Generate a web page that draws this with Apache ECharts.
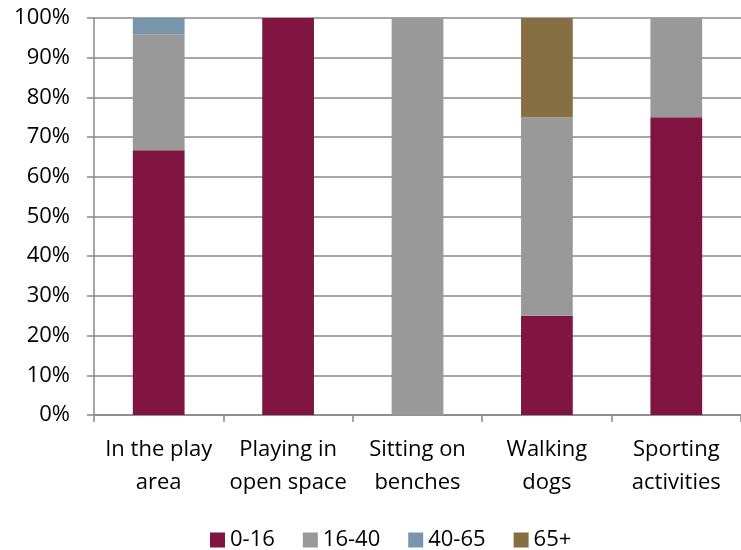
<!DOCTYPE html>
<html>
<head>
<meta charset="utf-8">
<script src="https://cdn.jsdelivr.net/npm/echarts@6/dist/echarts.min.js"></script>
<style>
  html, body { margin: 0; padding: 0; background: #fff; }
  #chart { width: 741px; height: 550px; }
</style>
</head>
<body>
<div id="chart"></div>
<script>
// categories and share of each age group (%)
var categories = ["In the play\narea", "Playing in\nopen space", "Sitting on\nbenches", "Walking\ndogs", "Sporting\nactivities"];
var age0to16 = [66.7, 100, 0, 25, 75];
var age16to40 = [29.2, 0, 100, 50, 25];
var age40to65 = [4.1, 0, 0, 0, 0];
var age65plus = [0, 0, 0, 25, 0];
var yTicks = [0, 10, 20, 30, 40, 50, 60, 70, 80, 90, 100];

var font = "'Open Sans', 'Liberation Sans', sans-serif";

function bar(name, data, color) {
  return {
    name: name,
    type: "bar",
    stack: "total",
    barWidth: "40%",
    data: data,
    itemStyle: { color: color },
    emphasis: { disabled: true }
  };
}

var chart = echarts.init(document.getElementById("chart"));
chart.setOption({
  animation: false,
  textStyle: { fontFamily: font },
  grid: { left: 94, right: 0, top: 18, bottom: 135 },
  legend: {
    top: 524,
    left: 205,
    itemWidth: 15,
    itemHeight: 15,
    itemGap: 28,
    icon: "rect",
    textStyle: { fontSize: 22, color: "#000", fontFamily: font },
    data: ["0-16", "16-40", "40-65", "65+"]
  },
  xAxis: {
    type: "category",
    data: categories,
    axisLine: { lineStyle: { color: "#888", width: 1.5 } },
    axisTick: { show: true, length: 7, lineStyle: { color: "#888", width: 1.5 } },
    axisLabel: { fontSize: 22, color: "#000", lineHeight: 33, margin: 18, interval: 0 }
  },
  yAxis: {
    type: "value",
    min: 0,
    max: 100,
    interval: 10,
    axisLine: { show: true, lineStyle: { color: "#888", width: 1.5 } },
    axisTick: { show: true, length: 7, lineStyle: { color: "#888", width: 1.5 } },
    splitLine: { lineStyle: { color: "#888", width: 1.5 } },
    axisLabel: {
      fontSize: 22,
      color: "#000",
      margin: 24,
      formatter: function (v) { return yTicks.indexOf(v) >= 0 ? v + "%" : ""; }
    }
  },
  series: [
    bar("0-16", age0to16, "#7f1540"),
    bar("16-40", age16to40, "#999999"),
    bar("40-65", age40to65, "#7796ac"),
    bar("65+", age65plus, "#876f44")
  ]
});
</script>
</body>
</html>
